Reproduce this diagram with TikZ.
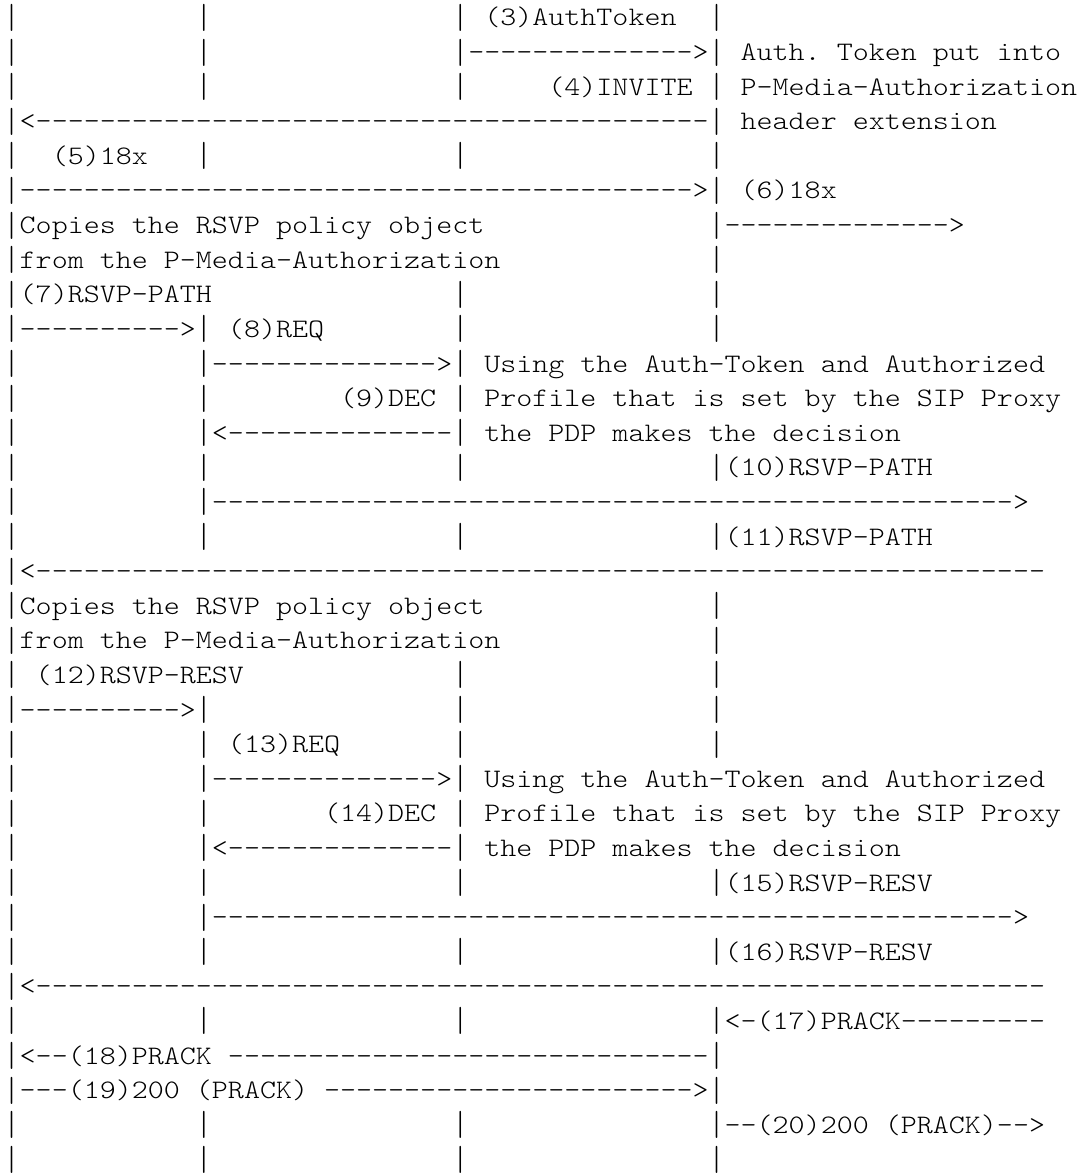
\documentclass[tikz,border=0pt]{standalone}
\usepackage{fontspec}
% light typewriter face, widened to a 0.6em character cell
\setmonofont{lmmonolt10-regular.otf}[FakeStretch=1.1429]
\ExplSyntaxOn
\cs_new:Npn \rpt #1#2 { \prg_replicate:nn {#1} {#2} }
\ExplSyntaxOff
% runs of blanks and of hyphens in the call-flow text
\newcommand\Sp[1]{\rpt{#1}{~}}
\newcommand\Dh[1]{\rpt{#1}{-}}
% a lifeline bar, taller than the plain glyph
\newcommand\vln{\raisebox{-1.25pt}{\scalebox{1}[1.3]{|}}}
\newcommand\xo{3.7}
\newcommand\by{26}
\newcommand\lh{34.6}
\tikzset{
  row/.style={anchor=base west, inner sep=0pt, outer sep=0pt,
    font=\ttfamily\fontsize{13.35pt}{16pt}\selectfont, text=black},
}
\begin{document}
\begin{tikzpicture}[x=0.5pt,y=-0.5pt]
\useasboundingbox[fill=white] (0,0) rectangle (1084,1176);
\node[row] (r1)  at (\xo,{\by+0*\lh})  {\vln\Sp{11}\vln\Sp{15}\vln~(3)AuthToken\Sp{2}\vln};
\node[row] (r2)  at (\xo,{\by+1*\lh})  {\vln\Sp{11}\vln\Sp{15}\vln\Dh{14}>\vln~Auth.~Token~put~into};
\node[row] (r3)  at (\xo,{\by+2*\lh})  {\vln\Sp{11}\vln\Sp{15}\vln\Sp{5}(4)INVITE~\vln~P-Media-Authorization};
\node[row] (r4)  at (\xo,{\by+3*\lh})  {\vln<\Dh{42}\vln~header~extension};
\node[row] (r5)  at (\xo,{\by+4*\lh})  {\vln\Sp{2}(5)18x\Sp{3}\vln\Sp{15}\vln\Sp{15}\vln};
\node[row] (r6)  at (\xo,{\by+5*\lh})  {\vln\Dh{42}>\vln~(6)18x};
\node[row] (r7)  at (\xo,{\by+6*\lh})  {\vln Copies~the~RSVP~policy~object\Sp{14}\vln\Dh{14}>};
\node[row] (r8)  at (\xo,{\by+7*\lh})  {\vln from~the~P-Media-Authorization\Sp{13}\vln};
\node[row] (r9)  at (\xo,{\by+8*\lh})  {\vln(7)RSVP-PATH\Sp{15}\vln\Sp{15}\vln};
\node[row] (r10) at (\xo,{\by+9*\lh})  {\vln\Dh{10}>\vln~(8)REQ\Sp{8}\vln\Sp{15}\vln};
\node[row] (r11) at (\xo,{\by+10*\lh}) {\vln\Sp{11}\vln\Dh{14}>\vln~Using~the~Auth-Token~and~Authorized};
\node[row] (r12) at (\xo,{\by+11*\lh}) {\vln\Sp{11}\vln\Sp{8}(9)DEC~\vln~Profile~that~is~set~by~the~SIP~Proxy};
\node[row] (r13) at (\xo,{\by+12*\lh}) {\vln\Sp{11}\vln<\Dh{14}\vln~the~PDP~makes~the~decision};
\node[row] (r14) at (\xo,{\by+13*\lh}) {\vln\Sp{11}\vln\Sp{15}\vln\Sp{15}\vln(10)RSVP-PATH};
\node[row] (r15) at (\xo,{\by+14*\lh}) {\vln\Sp{11}\vln\Dh{50}>};
\node[row] (r16) at (\xo,{\by+15*\lh}) {\vln\Sp{11}\vln\Sp{15}\vln\Sp{15}\vln(11)RSVP-PATH};
\node[row] (r17) at (\xo,{\by+16*\lh}) {\vln<\Dh{63}};
\node[row] (r18) at (\xo,{\by+17*\lh}) {\vln Copies~the~RSVP~policy~object\Sp{14}\vln};
\node[row] (r19) at (\xo,{\by+18*\lh}) {\vln from~the~P-Media-Authorization\Sp{13}\vln};
\node[row] (r20) at (\xo,{\by+19*\lh}) {\vln~(12)RSVP-RESV\Sp{13}\vln\Sp{15}\vln};
\node[row] (r21) at (\xo,{\by+20*\lh}) {\vln\Dh{10}>\vln\Sp{15}\vln\Sp{15}\vln};
\node[row] (r22) at (\xo,{\by+21*\lh}) {\vln\Sp{11}\vln~(13)REQ\Sp{7}\vln\Sp{15}\vln};
\node[row] (r23) at (\xo,{\by+22*\lh}) {\vln\Sp{11}\vln\Dh{14}>\vln~Using~the~Auth-Token~and~Authorized};
\node[row] (r24) at (\xo,{\by+23*\lh}) {\vln\Sp{11}\vln\Sp{7}(14)DEC~\vln~Profile~that~is~set~by~the~SIP~Proxy};
\node[row] (r25) at (\xo,{\by+24*\lh}) {\vln\Sp{11}\vln<\Dh{14}\vln~the~PDP~makes~the~decision};
\node[row] (r26) at (\xo,{\by+25*\lh}) {\vln\Sp{11}\vln\Sp{15}\vln\Sp{15}\vln(15)RSVP-RESV};
\node[row] (r27) at (\xo,{\by+26*\lh}) {\vln\Sp{11}\vln\Dh{50}>};
\node[row] (r28) at (\xo,{\by+27*\lh}) {\vln\Sp{11}\vln\Sp{15}\vln\Sp{15}\vln(16)RSVP-RESV};
\node[row] (r29) at (\xo,{\by+28*\lh}) {\vln<\Dh{63}};
\node[row] (r30) at (\xo,{\by+29*\lh}) {\vln\Sp{11}\vln\Sp{15}\vln\Sp{15}\vln<-(17)PRACK\Dh{9}};
\node[row] (r31) at (\xo,{\by+30*\lh}) {\vln<--(18)PRACK~\Dh{30}\vln};
\node[row] (r32) at (\xo,{\by+31*\lh}) {\vln---(19)200~(PRACK)~\Dh{23}>\vln};
\node[row] (r33) at (\xo,{\by+32*\lh}) {\vln\Sp{11}\vln\Sp{15}\vln\Sp{15}\vln--(20)200~(PRACK)-->};
\node[row] (r34) at (\xo,{\by+33*\lh}) {\vln\Sp{11}\vln\Sp{15}\vln\Sp{15}\vln};
\end{tikzpicture}
\end{document}
